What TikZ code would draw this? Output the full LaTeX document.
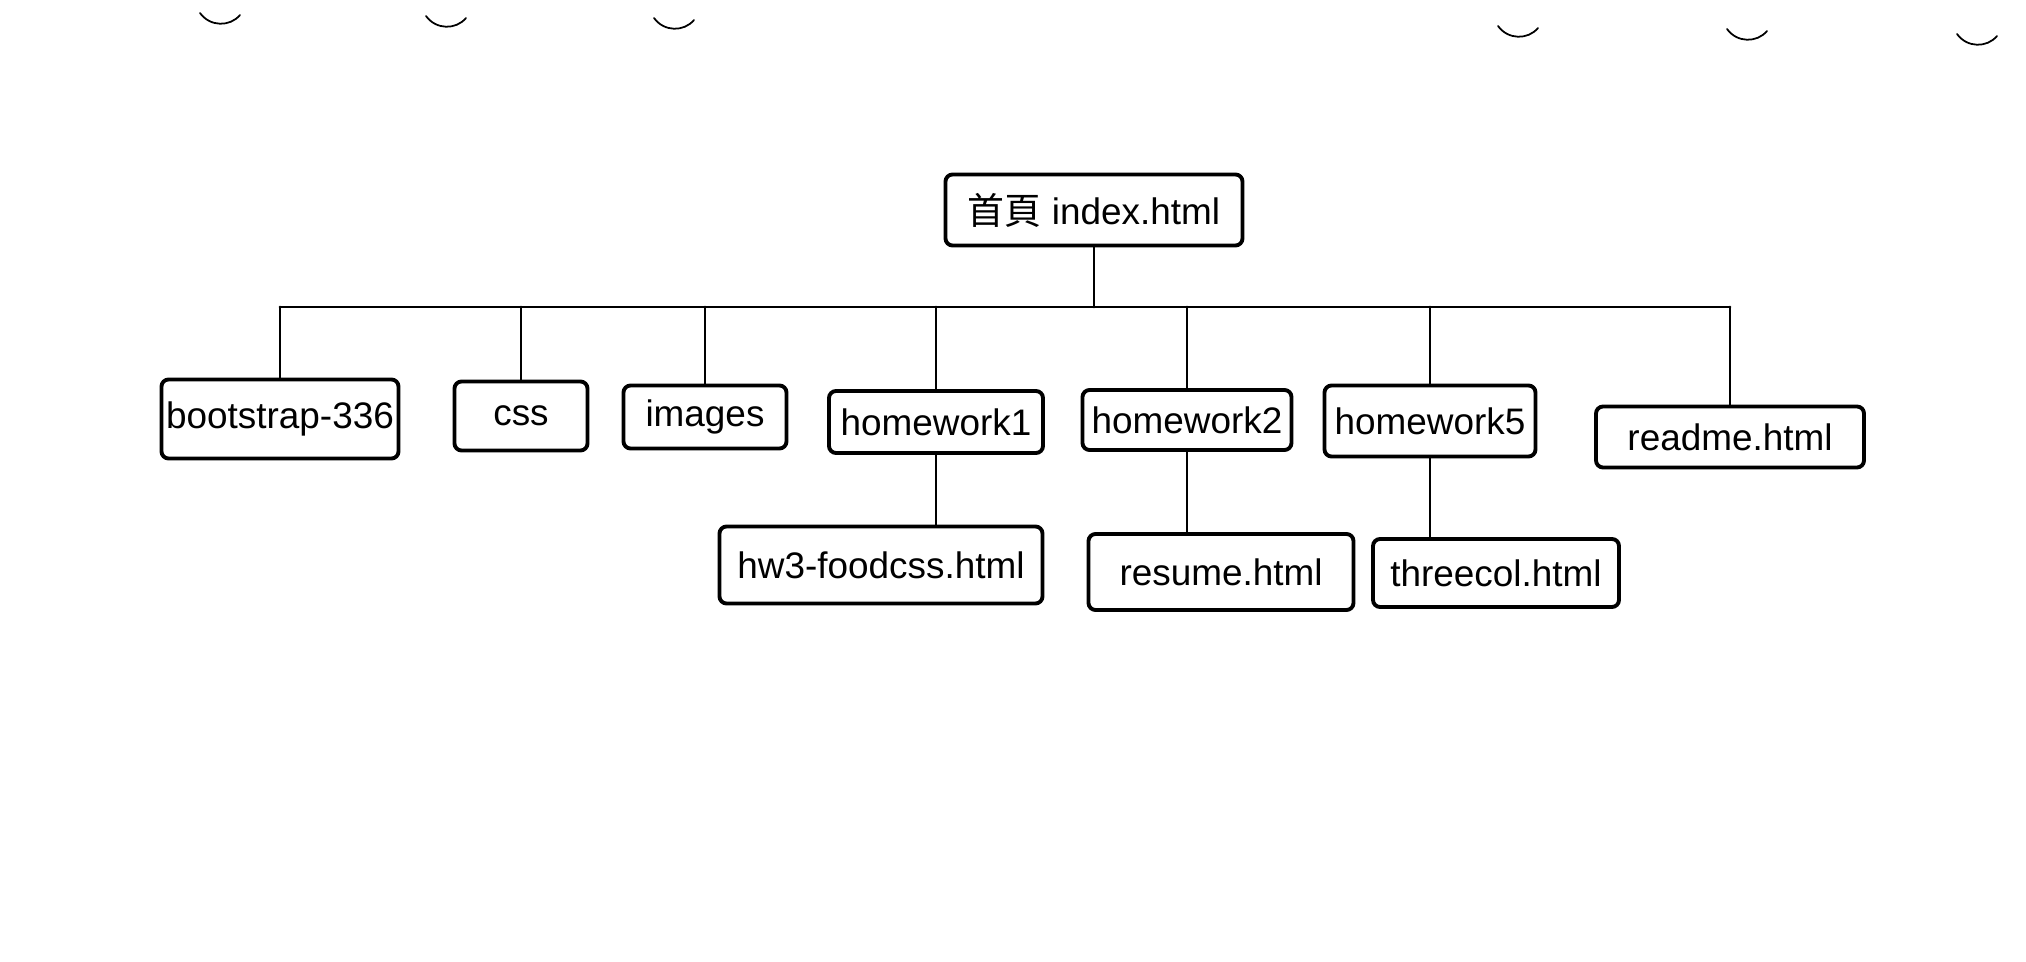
\documentclass[tikz,border=0pt]{standalone}
\usepackage{fontspec}
\setmainfont{Liberation Sans}
\newfontfamily\cjk{Noto Sans CJK TC}
\begin{document}
\begin{tikzpicture}[line cap=round,line join=round,
  box/.style={draw,line width=1.1pt,rounded corners=2pt,inner sep=0pt,font=\fontsize{10.5}{12}\selectfont},
  link/.style={line width=0.8pt}]
  \useasboundingbox (0,0) rectangle (20.26,-9.62);
  \foreach \x/\y in {2.20/0.23,4.46/0.26,6.74/0.28,15.18/0.36,17.47/0.39,19.77/0.44}
    \draw[line width=0.5pt] (\x-0.2,-\y+0.1) .. controls (\x-0.1,-\y-0.04) and (\x+0.1,-\y-0.04) .. (\x+0.2,-\y+0.08);
  \node[box,minimum width=2.97cm,minimum height=0.71cm] (index) at (10.94,-2.10) {{\cjk 首頁} index.html};
  \node[box,minimum width=2.37cm,minimum height=0.79cm] (boot) at (2.80,-4.19) {bootstrap-336};
  \node[box,minimum width=1.33cm,minimum height=0.69cm] (css) at (5.21,-4.16) {css};
  \node[box,minimum width=1.63cm,minimum height=0.63cm] (images) at (7.05,-4.17) {images};
  \node[box,minimum width=2.14cm,minimum height=0.62cm] (hw1) at (9.36,-4.22) {homework1};
  \node[box,minimum width=2.09cm,minimum height=0.60cm] (hw2) at (11.87,-4.20) {homework2};
  \node[box,minimum width=2.11cm,minimum height=0.71cm] (hw5) at (14.30,-4.21) {homework5};
  \node[box,minimum width=2.68cm,minimum height=0.61cm] (readme) at (17.30,-4.37) {readme.html};
  \node[box,minimum width=3.23cm,minimum height=0.77cm] (food) at (8.81,-5.65) {hw3-foodcss.html};
  \node[box,minimum width=2.65cm,minimum height=0.76cm] (resume) at (12.21,-5.72) {resume.html};
  \node[box,minimum width=2.46cm,minimum height=0.68cm] (three) at (14.96,-5.73) {threecol.html};
  \coordinate (bus) at (0,-3.07);
  \draw[link] (index.south) -- (index.south |- bus);
  \draw[link] (boot.north |- bus) -- (readme.north |- bus);
  \foreach \n in {boot,css,images,hw1,hw2,hw5,readme}
    \draw[link] (\n.north) -- (\n.north |- bus);
  \draw[link] (hw1.south) -- (hw1.south |- food.north);
  \draw[link] (hw2.south) -- (hw2.south |- resume.north);
  \draw[link] (hw5.south) -- (hw5.south |- three.north);
\end{tikzpicture}
\end{document}
